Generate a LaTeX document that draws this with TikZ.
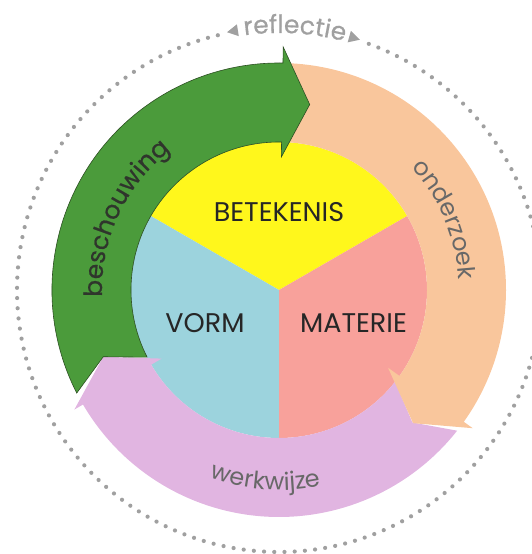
\documentclass[tikz,border=0pt]{standalone}
\usepackage{fontspec}
\setmainfont{Poppins}
\newfontfamily\heavyfont{Poppins}[FakeBold=0.6]
\usetikzlibrary{decorations.text}
\definecolor{cgreen}{HTML}{4B9B3B}
\definecolor{cgreenline}{HTML}{2C4F22}
\definecolor{cpeach}{HTML}{F9C69C}
\definecolor{clilac}{HTML}{E1B5E1}
\definecolor{cyellow}{HTML}{FFF71C}
\definecolor{cblue}{HTML}{9CD3DD}
\definecolor{csalmon}{HTML}{F8A19B}
\definecolor{tdark}{HTML}{262626}
\definecolor{tgreen}{HTML}{2F352C}
\definecolor{tgray}{HTML}{686868}
\definecolor{dotgray}{HTML}{A0A0A0}
\newcommand\ringfont{\fontsize{24}{24}\selectfont}
\newcommand\bigringfont{\heavyfont\fontsize{25}{25}\selectfont}
\newcommand\labfont{\fontsize{27}{27}\selectfont}
\tikzset{
  lab/.style={font=\labfont, text=tdark, inner sep=0pt},
  dotstyle/.style={fill=dotgray},
}
\begin{document}
\begin{tikzpicture}
\useasboundingbox (-279pt,-264pt) rectangle (253pt,290pt);
% inner circle sectors
\fill[cyellow] (0,0) -- (30:148pt) arc[start angle=30, end angle=150, radius=148pt] -- cycle;
\fill[cblue] (0,0) -- (150:148pt) arc[start angle=150, end angle=270, radius=148pt] -- cycle;
\fill[csalmon] (0,0) -- (270:148pt) arc[start angle=270, end angle=390, radius=148pt] -- cycle;
\node[lab] (bet) at (0pt,78pt) {BETEKENIS};
\node[lab] (vorm) at (-74pt,-33pt) {VORM};
\node[lab] (mat) at (74.5pt,-33pt) {MATERIE};
% pink arrow (werkwijze)
\fill[clilac] (321.7:227pt) arc[start angle=321.7, end angle=210.3, radius=227pt]
  -- (210.3:237pt) -- (200.8:188pt) -- (210.3:136pt) -- (210.3:148pt)
  arc[start angle=210.3, end angle=321.7, radius=148pt] -- (315.2:188pt) -- cycle;
% orange arrow (onderzoek)
\fill[cpeach] (87:227pt) arc[start angle=87, end angle=-35.5, radius=227pt]
  -- (-35.5:238pt) -- (-44.8:189pt) -- (-35.5:134pt) -- (-35.5:148pt)
  arc[start angle=-35.5, end angle=87, radius=148pt] -- (80.6:188pt) -- cycle;
% green arrow (beschouwing)
\filldraw[fill=cgreen, draw=cgreenline, line width=0.6pt] (207:227pt) arc[start angle=207, end angle=89, radius=227pt]
  -- (89:243pt) -- (80.6:188pt) -- (89:133pt) -- (89:148pt)
  arc[start angle=89, end angle=207, radius=148pt] -- (200.8:188pt) -- cycle;
% ring texts
\path[decorate, decoration={text along path, text align=center,
  text={|\bigringfont\color{tgreen}|beschouwing}}]
  (215:177pt) arc[start angle=215, end angle=95, radius=177pt];
\path[decorate, decoration={text along path, text align=center,
  text={|\ringfont\color{tgray}|onderzoek}}]
  (83:180pt) arc[start angle=83, end angle=-37, radius=180pt];
\path[decorate, decoration={text along path, text align=center,
  text={|\ringfont\color{tgray}|werkwijze}}]
  (206:200pt) arc[start angle=206, end angle=326, radius=200pt];
% reflection dotted circle
\foreach \i in {0,...,146} {\fill[dotstyle] ({103.5+\i*2.236}:262pt) circle (2.1pt);}
\fill[dotgray] (101.4:263pt) -- (99.0:257pt) -- (99.0:269pt) -- cycle;
\fill[dotgray] (72.1:263pt) -- (74.5:257pt) -- (74.5:269pt) -- cycle;
\path[decorate, decoration={text along path, text align=center,
  text={|\heavyfont\fontsize{25}{25}\selectfont\color{dotgray}|reflectie}}]
  (146.5:257pt) arc[start angle=146.5, end angle=26.5, radius=257pt];
\end{tikzpicture}
\end{document}
